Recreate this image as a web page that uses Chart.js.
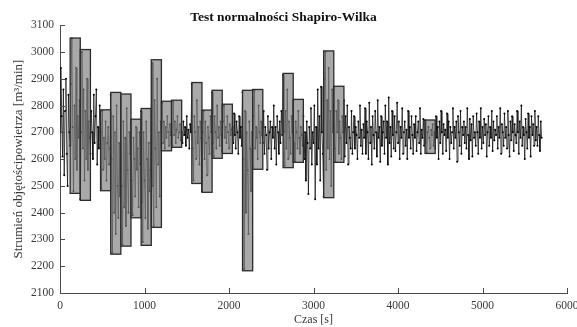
<!DOCTYPE html>
<html>
<head>
<meta charset="utf-8">
<script src="https://cdn.jsdelivr.net/npm/chart.js@4.4.1/dist/chart.umd.min.js"></script>
<style>
    html, body { margin: 0; padding: 0; background: #fff; }
    #wrap { width: 577px; height: 327px; position: relative; }
</style>
</head>
<body>
<div id="wrap"><canvas id="swChart"></canvas></div>
<script>
// ========================================
// DANE - strumień powietrza (co 10 s, 12 próbek = jedno okno 120 s)
// ========================================

const sampleStep = 10; // [s]

const flowValues = [
    2700, 2940, 2760, 2610, 2860, 2540, 2780, 2900, 2620, 2500, 2840, 2700,
    2650, 2880, 3050, 2720, 2480, 2800, 2600, 2940, 2560, 2760, 2680, 2820,
    2450, 2700, 3000, 2640, 2860, 2520, 2780, 2600, 2900, 2560, 2740, 2680,
    2620, 2780, 2700, 2600, 2840, 2660, 2760, 2860, 2580, 2720, 2640, 2800,
    2700, 2490, 2780, 2560, 2680, 2600, 2740, 2520, 2660, 2720, 2580, 2640,
    2840, 2600, 2250, 2760, 2400, 2700, 2320, 2800, 2500, 2380, 2660, 2460,
    2830, 2500, 2280, 2740, 2420, 2680, 2350, 2790, 2560, 2400, 2700, 2620,
    2740, 2520, 2390, 2680, 2600, 2460, 2720, 2560, 2640, 2420, 2700, 2580,
    2780, 2440, 2290, 2700, 2520, 2380, 2740, 2600, 2340, 2660, 2480, 2560,
    2760, 2960, 2500, 2350, 2820, 2640, 2420, 2900, 2580, 2700, 2460, 2740,
    2700, 2810, 2660, 2740, 2640, 2720, 2680, 2760, 2700, 2650, 2730, 2690,
    2720, 2650, 2815, 2690, 2740, 2660, 2710, 2760, 2680, 2700, 2730, 2670,
    2700, 2660, 2740, 2690, 2720, 2650, 2760, 2680, 2710, 2640, 2730, 2700,
    2880, 2640, 2520, 2760, 2700, 2600, 2820, 2660, 2720, 2580, 2740, 2680,
    2480, 2700, 2780, 2600, 2740, 2660, 2540, 2720, 2680, 2620, 2760, 2700,
    2850, 2660, 2610, 2760, 2700, 2640, 2800, 2680, 2720, 2650, 2740, 2690,
    2630, 2740, 2800, 2680, 2720, 2660, 2760, 2700, 2640, 2730, 2690, 2710,
    2720, 2660, 2770, 2690, 2640, 2740, 2700, 2620, 2760, 2680, 2720, 2650,
    2850, 2600, 2190, 2780, 2400, 2700, 2560, 2320, 2740, 2640, 2480, 2700,
    2570, 2760, 2855, 2640, 2720, 2680, 2600, 2800, 2700, 2660, 2740, 2690,
    2660, 2780, 2620, 2720, 2690, 2560, 2760, 2640, 2700, 2740, 2600, 2720,
    2680, 2800, 2640, 2720, 2580, 2760, 2700, 2620, 2740, 2660, 2780, 2690,
    2915, 2700, 2575, 2780, 2640, 2860, 2600, 2740, 2680, 2620, 2760, 2700,
    2820, 2660, 2590, 2740, 2700, 2640, 2780, 2680, 2620, 2720, 2690, 2650,
    2760, 2600, 2700, 2520, 2740, 2660, 2470, 2720, 2640, 2790, 2580, 2700,
    2660, 2800, 2450, 2720, 2580, 2860, 2640, 2760, 2520, 2870, 2700, 2620,
    2460, 2900, 3000, 2560, 2820, 2640, 2940, 2600, 2780, 2500, 2860, 2700,
    2870, 2640, 2590, 2780, 2700, 2820, 2620, 2740, 2680, 2600, 2760, 2700,
    2820, 2610, 2760, 2660, 2800, 2580, 2720, 2680, 2640, 2780, 2620, 2700,
    2760, 2640, 2720, 2690, 2600, 2740, 2680, 2800, 2650, 2710, 2620, 2730,
    2680, 2790, 2620, 2740, 2700, 2600, 2810, 2660, 2720, 2580, 2760, 2690,
    2640, 2780, 2700, 2610, 2820, 2680, 2720, 2590, 2760, 2650, 2700, 2740,
    2620, 2800, 2680, 2740, 2580, 2830, 2660, 2720, 2610, 2780, 2690, 2640,
    2760, 2630, 2700, 2810, 2660, 2740, 2600, 2720, 2680, 2790, 2620, 2700,
    2740, 2650, 2710, 2600, 2780, 2680, 2720, 2640, 2760, 2690, 2620, 2730,
    2680, 2760, 2630, 2700, 2740, 2660, 2790, 2620, 2710, 2680, 2750, 2650,
    2745, 2660, 2625, 2700, 2720, 2680, 2640, 2710, 2690, 2730, 2650, 2700,
    2640, 2760, 2680, 2720, 2600, 2740, 2660, 2780, 2700, 2620, 2730, 2690,
    2710, 2630, 2770, 2680, 2740, 2600, 2720, 2660, 2700, 2790, 2640, 2720,
    2680, 2740, 2590, 2760, 2700, 2650, 2780, 2620, 2720, 2690, 2740, 2660,
    2720, 2640, 2790, 2690, 2600, 2750, 2670, 2730, 2610, 2760, 2680, 2700,
    2650, 2770, 2700, 2620, 2740, 2680, 2790, 2640, 2720, 2660, 2750, 2690,
    2730, 2610, 2700, 2760, 2650, 2720, 2680, 2780, 2630, 2740, 2670, 2710,
    2690, 2760, 2640, 2720, 2680, 2790, 2620, 2730, 2700, 2650, 2770, 2680,
    2720, 2640, 2780, 2690, 2610, 2740, 2670, 2760, 2700, 2630, 2730, 2690,
    2660, 2780, 2700, 2620, 2740, 2680, 2800, 2650, 2720, 2690, 2600, 2750,
    2700, 2640, 2770, 2680, 2720, 2610, 2760, 2690, 2730, 2650, 2780, 2670,
    2720, 2650, 2760, 2690, 2630, 2740, 2680
];

// okna testu (prostokąty): początek, koniec, min, max
const boxStart = [120, 240, 480, 600, 720, 840, 960, 1080, 1200, 1320, 1560, 1680, 1800, 1920, 2160, 2280, 2640, 2760, 3120, 3240, 4320];
const boxEnd   = [240, 360, 600, 720, 840, 960, 1080, 1200, 1320, 1440, 1680, 1800, 1920, 2040, 2280, 2400, 2760, 2880, 3240, 3360, 4440];
const boxLow   = [2472, 2446, 2482, 2245, 2275, 2381, 2278, 2345, 2631, 2644, 2509, 2476, 2603, 2621, 2183, 2562, 2568, 2588, 2456, 2588, 2621];
const boxHigh  = [3052, 3009, 2784, 2849, 2843, 2749, 2789, 2971, 2816, 2820, 2886, 2783, 2857, 2805, 2857, 2860, 2920, 2823, 3004, 2872, 2746];

const xTicks = [0, 1000, 2000, 3000, 4000, 5000, 6000];
const yTicks = [2100, 2200, 2300, 2400, 2500, 2600, 2700, 2800, 2900, 3000, 3100];

const serif = "'Liberation Serif', 'DejaVu Serif', serif";
const axisColor = '#4a4a4a';
const textColor = '#383838';

// ========================================
// PLUGINY
// ========================================

// prostokąty rysowane na skalach wykresu
const boxesPlugin = {
    id: 'boxes',
    afterDatasetsDraw(chart) {
        const { ctx, chartArea, scales: { x, y } } = chart;
        ctx.save();
        ctx.beginPath();
        ctx.rect(chartArea.left, chartArea.top, chartArea.right - chartArea.left, chartArea.bottom - chartArea.top);
        ctx.clip();
        boxStart.forEach((s, i) => {
            const x0 = x.getPixelForValue(s);
            const x1 = x.getPixelForValue(boxEnd[i]);
            const y0 = y.getPixelForValue(boxHigh[i]);
            const y1 = y.getPixelForValue(boxLow[i]);
            ctx.fillStyle = 'rgba(128,128,128,0.68)';
            ctx.fillRect(x0, y0, x1 - x0, y1 - y0);
            ctx.strokeStyle = '#2b2b2b';
            ctx.lineWidth = 1.3;
            ctx.strokeRect(x0, y0, x1 - x0, y1 - y0);
        });
        ctx.restore();
    }
};

// znaczniki osi do środka (jak w MATLABie)
const inwardTicks = {
    id: 'inwardTicks',
    afterDraw(chart) {
        const { ctx, chartArea, scales: { x, y } } = chart;
        ctx.save();
        ctx.strokeStyle = axisColor;
        ctx.lineWidth = 1;
        ctx.beginPath();
        xTicks.forEach(v => {
            const px = Math.round(x.getPixelForValue(v)) + 0.5;
            ctx.moveTo(px, chartArea.bottom);
            ctx.lineTo(px, chartArea.bottom - 5);
        });
        yTicks.forEach(v => {
            const py = Math.round(y.getPixelForValue(v)) + 0.5;
            ctx.moveTo(chartArea.left, py);
            ctx.lineTo(chartArea.left + 5, py);
        });
        ctx.stroke();
        ctx.restore();
    }
};

// ========================================
// WYKRES
// ========================================

function loadChart() {
    const canvas = document.getElementById('swChart');
    const points = flowValues.map((v, i) => ({ x: i * sampleStep, y: v }));

    new Chart(canvas, {
        type: 'line',
        data: {
            datasets: [{
                label: 'Strumień',
                data: points,
                borderColor: 'rgba(10,10,10,0.9)',
                borderWidth: 0.8,
                pointRadius: 1,
                pointBackgroundColor: '#000',
                pointBorderWidth: 0,
                tension: 0,
                fill: false
            }]
        },
        options: {
            responsive: true,
            maintainAspectRatio: false,
            animation: false,
            layout: { padding: { left: 0, right: 10, top: 0, bottom: 0 } },
            plugins: {
                legend: { display: false },
                tooltip: { enabled: false },
                title: {
                    display: true,
                    text: 'Test normalności Shapiro-Wilka',
                    color: '#111',
                    font: { family: serif, size: 13.5, weight: 'bold' },
                    padding: { top: 9, bottom: 0 }
                }
            },
            scales: {
                x: {
                    type: 'linear',
                    min: 0,
                    max: 6000,
                    afterBuildTicks: s => { s.ticks = xTicks.map(v => ({ value: v })); },
                    afterFit: s => { s.height = 34; s.paddingLeft = 0; s.paddingRight = 0; },
                    grid: { display: false, drawTicks: false },
                    border: { display: true, color: axisColor, width: 1 },
                    ticks: {
                        color: textColor, padding: 6, maxRotation: 0,
                        font: { family: serif, size: 11.5 },
                        callback: v => String(v)
                    },
                    title: {
                        display: true,
                        text: 'Czas [s]',
                        color: textColor,
                        padding: { top: 0, bottom: 0 },
                        font: { family: serif, size: 12 }
                    }
                },
                y: {
                    min: 2100,
                    max: 3100,
                    afterBuildTicks: s => { s.ticks = yTicks.map(v => ({ value: v })); },
                    afterFit: s => { s.width = 60; },
                    grid: { display: false, drawTicks: false },
                    border: { display: true, color: axisColor, width: 1 },
                    ticks: {
                        color: textColor, padding: 6,
                        font: { family: serif, size: 11.5 },
                        callback: v => String(v)
                    },
                    title: {
                        display: true,
                        text: 'Strumień objętościpowietrza [m³/min]',
                        color: textColor,
                        padding: { top: 11, bottom: 0 },
                        font: { family: serif, size: 13 }
                    }
                }
            }
        },
        plugins: [boxesPlugin, inwardTicks]
    });
}

document.addEventListener('DOMContentLoaded', loadChart);
</script>
</body>
</html>
